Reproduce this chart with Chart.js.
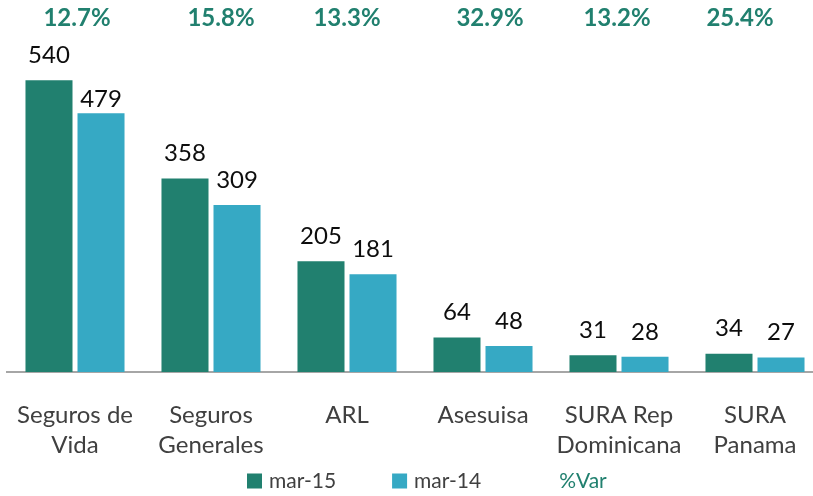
<!DOCTYPE html>
<html>
<head>
<meta charset="utf-8">
<script src="https://cdn.jsdelivr.net/npm/chart.js@4/dist/chart.umd.min.js"></script>
<style>
  html, body { margin: 0; padding: 0; background: #ffffff; overflow: hidden; }
  #wrap { width: 813px; height: 496px; overflow: hidden; position: relative; }
  canvas { display: block; }
</style>
</head>
<body>
<div id="wrap"><canvas id="c" width="823" height="496"></canvas></div>
<script>
const categories = [["Seguros de", "Vida"], ["Seguros", "Generales"], ["ARL"], ["Asesuisa"], ["SURA Rep", "Dominicana"], ["SURA", "Panama"]];
const mar15 = [540, 358, 205, 64, 31, 34];
const mar14 = [479, 309, 181, 48, 28, 27];
const pctVar = [12.7, 15.8, 13.3, 32.9, 13.2, 25.4];
const seriesNames = ["mar-15", "mar-14", "%Var"];

const GREEN = '#21806f';
const BLUE = '#36a9c4';
const FONT = 'Lato, "Open Sans", sans-serif';

// small hand-placement nudges of the label text (style only)
const pctNudgeX = [2, 10, 0, 7, -2, -15];
const valueNudgeY = [[0, 0, 0, 0, 0, 0], [11, 0, 0, 0, 0, 0]];

const labelsPlugin = {
  id: 'labelsPlugin',
  afterDatasetsDraw(chart) {
    const ctx = chart.ctx;
    ctx.save();
    // value labels above bars
    ctx.font = '24px ' + FONT;
    ctx.fillStyle = '#0d0d0d';
    ctx.textAlign = 'center';
    ctx.textBaseline = 'middle';
    [0, 1].forEach(di => {
      const meta = chart.getDatasetMeta(di);
      meta.data.forEach((bar, i) => {
        ctx.fillText(String(chart.data.datasets[di].data[i]), bar.x, bar.y - 25 + valueNudgeY[di][i]);
      });
    });
    // %Var labels at top
    const xScale = chart.scales.x;
    ctx.font = 'bold 24px ' + FONT;
    ctx.fillStyle = GREEN;
    chart.data.datasets[2].data.forEach((v, i) => {
      ctx.fillText(v.toFixed(1) + '%', xScale.getPixelForValue(i) + pctNudgeX[i], 18);
    });
    // legend
    ctx.textAlign = 'left';
    ctx.textBaseline = 'middle';
    ctx.font = '21px ' + FONT;
    let x = 247;
    const yc = 481;
    const colors = [GREEN, BLUE, null];
    seriesNames.forEach((name, i) => {
      if (colors[i]) {
        ctx.fillStyle = colors[i];
        ctx.fillRect(x, yc - 7.5, 15, 15);
      }
      x += 22;
      ctx.fillStyle = i === 2 ? GREEN : '#404040';
      ctx.fillText(name, x, yc);
      x += ctx.measureText(name).width + 56;
    });
    ctx.restore();
  }
};

new Chart(document.getElementById('c'), {
  data: {
    labels: categories,
    datasets: [
      { type: 'bar', label: seriesNames[0], data: mar15, backgroundColor: GREEN, yAxisID: 'y', order: 2,
        categoryPercentage: 0.765, barPercentage: 0.904 },
      { type: 'bar', label: seriesNames[1], data: mar14, backgroundColor: BLUE, yAxisID: 'y', order: 2,
        categoryPercentage: 0.765, barPercentage: 0.904 },
      { type: 'line', label: seriesNames[2], data: pctVar, yAxisID: 'y2', showLine: false,
        pointRadius: 0, borderColor: GREEN, backgroundColor: GREEN, order: 1 }
    ]
  },
  options: {
    responsive: false,
    animation: false,
    layout: { padding: { left: 7, right: 0, top: 30, bottom: 8 } },
    plugins: { legend: { display: false }, tooltip: { enabled: false } },
    scales: {
      x: {
        grid: { display: true, color: 'rgba(0,0,0,0)', drawTicks: false },
        border: { display: true, color: '#a6a6a6', width: 2 },
        ticks: { color: '#404040', font: { family: FONT, size: 24, lineHeight: 1.25 }, padding: 28, maxRotation: 0, autoSkip: false },
        afterFit(scale) { scale.paddingLeft = 0; scale.paddingRight = 0; }
      },
      y: { display: false, min: 0, max: 633 },
      y2: { display: false, min: 0, max: 100 }
    }
  },
  plugins: [labelsPlugin]
});
</script>
</body>
</html>
